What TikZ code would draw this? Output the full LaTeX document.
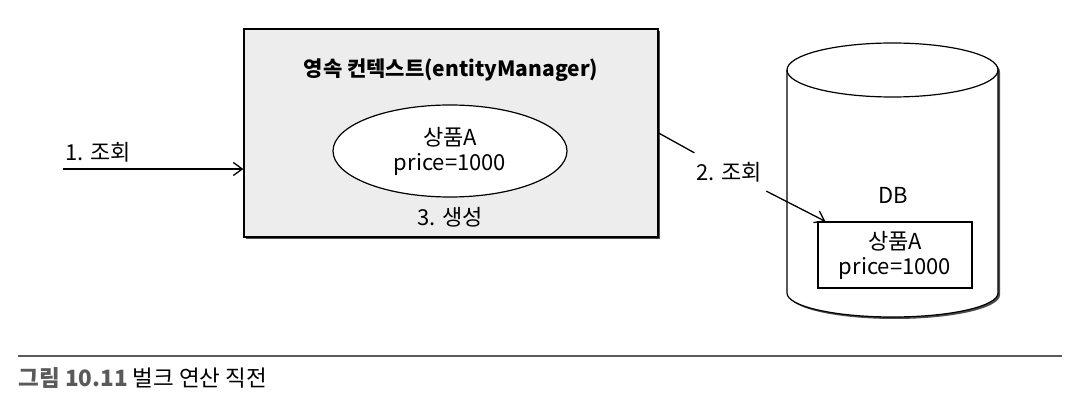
\documentclass[tikz,border=0pt]{standalone}
\usepackage{fontspec}
\setmainfont{Noto Sans CJK KR}
\usetikzlibrary{shapes.geometric, shadows, arrows.meta}
\definecolor{BoxGray}{RGB}{237,237,237}
\definecolor{CapGray}{RGB}{90,90,90}

\begin{document}
\begin{tikzpicture}[x=1pt, y=1pt,
  every node/.style={font=\fontsize{22}{25}\selectfont, align=center},
  arr/.style={-{Straight Barb[length=9pt, width=13pt]}, line width=1.3pt},
  shade box/.style={drop shadow={shadow xshift=2pt, shadow yshift=-2pt, fill=black!70, opacity=1}}]
\useasboundingbox (0,0) rectangle (1081,418);

% Nodes
\node[draw, rectangle, line width=1.2pt, fill=BoxGray, minimum width=414pt, minimum height=208pt, shade box] (ctx) at (451,285) {};
\node[font=\bfseries\fontsize{21}{25}\selectfont] (title) at (451,348) {영속 컨텍스트(entityManager)};
\node[draw, ellipse, line width=1.2pt, fill=white, minimum width=234pt, minimum height=92pt, inner sep=0pt] (entity) at (450,267) {상품A\\price=1000};
\node (make) at (450,201) {3. 생성};

\node[anchor=west] (q1) at (62,266) {1. 조회};
\coordinate (src) at (63,249);
\node[inner sep=9pt] (q2) at (729,246) {2. 조회};

% DB cylinder
\draw[line width=1.2pt, fill=white, shade box] (787,348) -- (787,125)
  arc[start angle=180, end angle=360, x radius=105.5, y radius=24] -- (998,348)
  arc[start angle=0, end angle=180, x radius=105.5, y radius=27] -- cycle;
\draw[line width=1.2pt] (787,348) arc[start angle=180, end angle=360, x radius=105.5, y radius=27];
\node (dblabel) at (893,223) {DB};
\node[draw, rectangle, line width=1.2pt, fill=white, minimum width=154pt, minimum height=66pt, inner sep=0pt] (item) at (895,163) {상품A\\price=1000};

% Arrows
\draw[arr] (src) -- (src -| ctx.west);
\draw[line width=1.3pt] (ctx.east) -- (q2);
\draw[arr] (q2) -- ([xshift=8pt]item.north west);

% Caption
\coordinate (capL) at (18,62);
\coordinate (capR) at (1062,62);
\draw[CapGray, line width=1.2pt] (capL) -- (capR);
\node[anchor=west, font=\fontsize{22.5}{26}\selectfont] (caption) at (15,40) {\textcolor{CapGray}{\bfseries 그림 10.11} 벌크 연산 직전};
\end{tikzpicture}
\end{document}
